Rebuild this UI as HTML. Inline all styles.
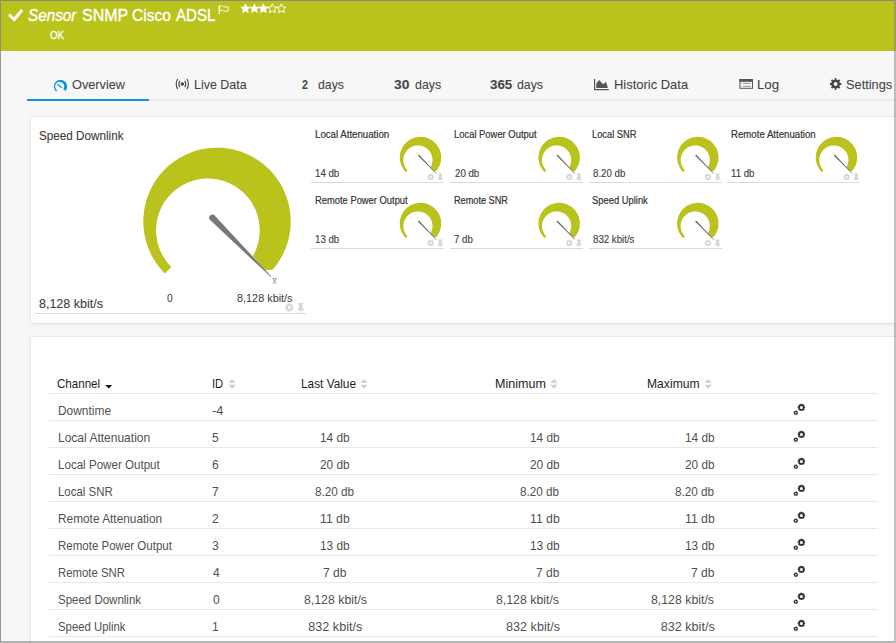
<!DOCTYPE html>
<html><head><meta charset="utf-8"><title>Sensor SNMP Cisco ADSL</title>
<style>
html,body{margin:0;padding:0;}
body{width:896px;height:643px;overflow:hidden;position:relative;background:#f7f7f7;font-family:'Liberation Sans', sans-serif;}
.t{position:absolute;white-space:pre;line-height:1;font-family:'Liberation Sans', sans-serif;transform-origin:0 0;}
.ov{position:absolute;left:0;top:0;}
#hdr{position:absolute;left:0;top:0;width:896px;height:51px;background:#b9c31c;}
#tabline{position:absolute;left:27px;top:99px;width:870px;height:2px;background:#ececec;}
#tabsel{position:absolute;left:27px;top:99px;width:122px;height:2px;background:#0e97d5;}
.card{position:absolute;background:#fff;box-shadow:0 0 1px rgba(0,0,0,0.22),0 1px 5px rgba(0,0,0,0.08);}
#card1{left:31px;top:117px;width:880px;height:206px;}
#card2{left:31px;top:337px;width:880px;height:320px;}
.ul{position:absolute;height:1px;background:#d9d9d9;}
.tl{position:absolute;height:1px;left:49px;width:829px;background:#e8e8e8;}
#frame{position:absolute;left:0;top:0;width:896px;height:643px;box-sizing:border-box;border-top:1px solid rgba(134,134,134,0.92);border-left:1px solid rgba(135,135,135,0.84);border-right:2px solid rgba(128,128,128,0.5);border-bottom:2px solid rgba(110,110,110,0.5);}
</style></head><body>
<div id="hdr"></div>
<div id="tabline"></div><div id="tabsel"></div>
<div class="card" id="card1"></div>
<div class="card" id="card2"></div>
<div class="ul" style="left:35px;top:313px;width:271px"></div><div class="ul" style="left:311px;top:182px;width:133px"></div><div class="ul" style="left:450px;top:182px;width:133px"></div><div class="ul" style="left:589px;top:182px;width:133px"></div><div class="ul" style="left:727px;top:182px;width:133px"></div><div class="ul" style="left:311px;top:248px;width:133px"></div><div class="ul" style="left:450px;top:248px;width:133px"></div><div class="ul" style="left:589px;top:248px;width:133px"></div><div class="tl" style="top:393px"></div><div class="tl" style="top:420px"></div><div class="tl" style="top:447px"></div><div class="tl" style="top:474px"></div><div class="tl" style="top:501px"></div><div class="tl" style="top:528px"></div><div class="tl" style="top:555px"></div><div class="tl" style="top:582px"></div><div class="tl" style="top:609px"></div><div class="tl" style="top:636px"></div><svg class="ov" width="896" height="643" viewBox="0 0 896 643"><path d="M164.89,273.51 L162.27,270.76 L159.80,267.87 L157.48,264.86 L155.31,261.73 L153.32,258.50 L151.49,255.16 L149.84,251.74 L148.36,248.24 L147.07,244.66 L145.96,241.03 L145.04,237.34 L144.32,233.61 L143.79,229.84 L143.45,226.06 L143.30,222.26 L143.36,218.46 L143.61,214.66 L144.05,210.89 L144.69,207.14 L145.52,203.43 L146.55,199.77 L147.75,196.17 L149.15,192.63 L150.72,189.17 L152.47,185.79 L154.39,182.51 L156.48,179.34 L158.73,176.27 L161.13,173.33 L163.69,170.51 L166.38,167.83 L169.21,165.29 L172.17,162.90 L175.24,160.67 L178.43,158.60 L181.72,156.69 L185.10,154.96 L188.57,153.40 L192.12,152.03 L195.73,150.84 L199.39,149.83 L203.11,149.02 L206.86,148.40 L210.63,147.98 L214.43,147.74 L218.23,147.71 L222.03,147.87 L225.81,148.23 L229.57,148.78 L233.30,149.53 L236.98,150.46 L240.62,151.59 L244.18,152.90 L247.68,154.39 L251.09,156.06 L254.42,157.91 L257.64,159.92 L260.76,162.10 L263.76,164.43 L266.63,166.92 L269.38,169.55 L271.98,172.32 L274.44,175.22 L276.74,178.24 L278.89,181.38 L280.87,184.62 L282.68,187.97 L284.32,191.40 L285.77,194.91 L287.05,198.49 L288.14,202.13 L289.04,205.83 L289.74,209.56 L290.26,213.33 L290.58,217.11 L290.70,220.91 L290.63,224.71 L290.36,228.51 L289.89,232.28 L289.23,236.02 L288.38,239.73 L287.34,243.38 L286.12,246.98 L284.71,250.51 L283.12,253.96 L281.35,257.33 L279.41,260.60 L277.31,263.77 L275.04,266.82 L272.62,269.75 L264.60,269.90 L252.86,256.03 L254.12,253.68 L255.25,251.31 L256.24,248.91 L257.10,246.50 L257.83,244.09 L258.44,241.67 L258.92,239.26 L259.28,236.86 L259.53,234.48 L259.67,232.13 L259.70,229.79 L259.62,227.49 L259.45,225.22 L259.18,222.99 L258.82,220.79 L258.37,218.64 L257.83,216.52 L257.22,214.45 L256.52,212.43 L255.75,210.45 L254.90,208.52 L253.98,206.64 L252.99,204.81 L251.94,203.03 L250.82,201.30 L249.64,199.62 L248.40,198.00 L247.09,196.43 L245.73,194.91 L244.31,193.45 L242.83,192.05 L241.29,190.70 L239.70,189.41 L238.06,188.19 L236.36,187.02 L234.61,185.92 L232.81,184.88 L230.96,183.91 L229.05,183.02 L227.10,182.19 L225.10,181.44 L223.05,180.76 L220.95,180.17 L218.81,179.66 L216.63,179.24 L214.41,178.91 L212.15,178.67 L209.85,178.54 L207.52,178.50 L205.17,178.57 L202.79,178.75 L200.38,179.05 L197.97,179.46 L195.54,180.00 L193.11,180.66 L190.68,181.45 L188.26,182.37 L185.86,183.42 L183.48,184.62 L181.14,185.95 L178.83,187.42 L176.59,189.04 L174.40,190.79 L172.29,192.68 L170.26,194.71 L168.32,196.88 L166.49,199.18 L164.77,201.61 L163.18,204.16 L161.73,206.82 L160.42,209.59 L159.27,212.46 L158.28,215.42 L157.47,218.47 L156.84,221.57 L156.40,224.74 L156.15,227.95 L156.11,231.19 L156.27,234.44 L156.63,237.70 L157.21,240.94 L157.99,244.16 L158.98,247.33 L160.17,250.44 L161.57,253.47 L163.17,256.42 L164.95,259.26 L166.92,261.99 L169.06,264.58 L171.37,267.03Z" fill="#b9c31c"/><path d="M210.13,220.06 L270.75,277.05 L271.25,276.55 L214.67,215.54 A3.20,3.20 0 0 0 210.13,220.06Z" fill="#787878"/><path d="M272.6,278.4 H276.6 M273,278.9 L276.2,283.6 M276.2,278.9 L273,283.6" stroke="#8c8ca0" stroke-width="0.9" fill="none"/><path d="M292.64,306.77 L293.74,306.77 L293.74,308.23 L292.64,308.23 L292.18,309.35 L292.96,310.12 L291.92,311.16 L291.15,310.38 L290.03,310.84 L290.03,311.94 L288.57,311.94 L288.57,310.84 L287.45,310.38 L286.68,311.16 L285.64,310.12 L286.42,309.35 L285.96,308.23 L284.86,308.23 L284.86,306.77 L285.96,306.77 L286.42,305.65 L285.64,304.88 L286.68,303.84 L287.45,304.62 L288.57,304.16 L288.57,303.06 L290.03,303.06 L290.03,304.16 L291.15,304.62 L291.92,303.84 L292.96,304.88 L292.18,305.65Z M290.70,307.50 A1.40,1.40 0 1 0 287.90,307.50 A1.40,1.40 0 1 0 290.70,307.50Z" fill="#d6d6d6" fill-rule="evenodd"/><path d="M298.15,303.00 H303.05 V304.50 H302.37 V307.70 L304.00,309.39 V310.14 H301.14 V312.40 H300.06 V310.14 H297.20 V309.39 L298.83,307.70 V304.50 H298.15Z" fill="#d6d6d6"/><path d="M405.86,172.14 L405.13,171.36 L404.43,170.55 L403.78,169.71 L403.17,168.83 L402.61,167.92 L402.10,166.98 L401.64,166.02 L401.22,165.04 L400.86,164.03 L400.55,163.01 L400.29,161.98 L400.09,160.93 L399.94,159.87 L399.84,158.81 L399.80,157.74 L399.82,156.67 L399.89,155.61 L400.01,154.55 L400.19,153.50 L400.42,152.45 L400.71,151.42 L401.05,150.41 L401.44,149.42 L401.88,148.45 L402.38,147.50 L402.92,146.58 L403.50,145.69 L404.13,144.83 L404.81,144.00 L405.53,143.21 L406.28,142.45 L407.08,141.74 L407.91,141.07 L408.77,140.44 L409.67,139.86 L410.59,139.33 L411.54,138.84 L412.52,138.40 L413.51,138.02 L414.52,137.68 L415.55,137.40 L416.60,137.17 L417.65,137.00 L418.71,136.88 L419.78,136.81 L420.85,136.80 L421.91,136.85 L422.97,136.95 L424.03,137.10 L425.08,137.31 L426.11,137.58 L427.13,137.89 L428.14,138.26 L429.12,138.68 L430.08,139.15 L431.01,139.67 L431.92,140.23 L432.79,140.84 L433.63,141.50 L434.44,142.20 L435.21,142.94 L435.94,143.71 L436.63,144.53 L437.28,145.38 L437.88,146.26 L438.44,147.17 L438.95,148.11 L439.41,149.07 L439.82,150.06 L440.17,151.07 L440.48,152.09 L440.73,153.13 L440.93,154.17 L441.08,155.23 L441.16,156.30 L441.20,157.36 L441.18,158.43 L441.10,159.50 L440.97,160.56 L440.79,161.61 L440.55,162.65 L440.26,163.67 L439.91,164.69 L439.52,165.68 L439.07,166.65 L438.57,167.59 L438.03,168.51 L437.44,169.40 L436.80,170.26 L436.12,171.08 L433.87,171.12 L430.57,167.23 L430.93,166.57 L431.24,165.90 L431.52,165.23 L431.76,164.55 L431.97,163.87 L432.14,163.19 L432.27,162.52 L432.38,161.84 L432.45,161.17 L432.48,160.51 L432.49,159.86 L432.47,159.21 L432.42,158.57 L432.35,157.95 L432.25,157.33 L432.12,156.72 L431.97,156.13 L431.80,155.55 L431.60,154.98 L431.38,154.43 L431.14,153.88 L430.89,153.35 L430.61,152.84 L430.31,152.34 L430.00,151.85 L429.67,151.38 L429.32,150.93 L428.95,150.49 L428.57,150.06 L428.17,149.65 L427.75,149.26 L427.32,148.88 L426.88,148.52 L426.42,148.17 L425.94,147.84 L425.45,147.53 L424.94,147.24 L424.42,146.97 L423.89,146.72 L423.34,146.49 L422.77,146.28 L422.20,146.09 L421.61,145.92 L421.01,145.78 L420.40,145.66 L419.77,145.57 L419.14,145.50 L418.49,145.46 L417.84,145.45 L417.18,145.47 L416.51,145.52 L415.83,145.60 L415.15,145.72 L414.47,145.87 L413.79,146.06 L413.11,146.28 L412.43,146.54 L411.75,146.83 L411.08,147.17 L410.43,147.54 L409.78,147.96 L409.15,148.41 L408.54,148.90 L407.94,149.43 L407.37,150.00 L406.83,150.61 L406.31,151.26 L405.83,151.94 L405.38,152.66 L404.98,153.40 L404.61,154.18 L404.28,154.99 L404.01,155.82 L403.78,156.68 L403.60,157.55 L403.48,158.44 L403.41,159.34 L403.40,160.25 L403.44,161.16 L403.54,162.08 L403.71,162.99 L403.93,163.89 L404.20,164.78 L404.54,165.66 L404.93,166.51 L405.38,167.34 L405.88,168.13 L406.43,168.90 L407.04,169.63 L407.68,170.32Z" fill="#b9c31c"/><path d="M418.23,156.06 L436.16,173.64 L436.44,173.36 L419.37,154.94 A0.80,0.80 0 0 0 418.23,156.06Z" fill="#6a6a6a"/><path d="M433.27,176.42 L434.15,176.41 L434.15,177.59 L433.27,177.58 L432.90,178.48 L433.53,179.10 L432.70,179.93 L432.08,179.30 L431.18,179.67 L431.19,180.55 L430.01,180.55 L430.02,179.67 L429.12,179.30 L428.50,179.93 L427.67,179.10 L428.30,178.48 L427.93,177.58 L427.05,177.59 L427.05,176.41 L427.93,176.42 L428.30,175.52 L427.67,174.90 L428.50,174.07 L429.12,174.70 L430.02,174.33 L430.01,173.45 L431.19,173.45 L431.18,174.33 L432.08,174.70 L432.70,174.07 L433.53,174.90 L432.90,175.52Z M431.70,177.00 A1.10,1.10 0 1 0 429.50,177.00 A1.10,1.10 0 1 0 431.70,177.00Z" fill="#d6d6d6" fill-rule="evenodd"/><path d="M438.28,173.60 H442.32 V174.82 H441.76 V177.40 L443.10,178.77 V179.38 H440.75 V181.20 H439.85 V179.38 H437.50 V178.77 L438.84,177.40 V174.82 H438.28Z" fill="#d6d6d6"/><path d="M544.51,172.14 L543.78,171.36 L543.08,170.55 L542.43,169.71 L541.82,168.83 L541.26,167.92 L540.75,166.98 L540.29,166.02 L539.87,165.04 L539.51,164.03 L539.20,163.01 L538.94,161.98 L538.74,160.93 L538.59,159.87 L538.49,158.81 L538.45,157.74 L538.47,156.67 L538.54,155.61 L538.66,154.55 L538.84,153.50 L539.07,152.45 L539.36,151.42 L539.70,150.41 L540.09,149.42 L540.53,148.45 L541.03,147.50 L541.57,146.58 L542.15,145.69 L542.78,144.83 L543.46,144.00 L544.18,143.21 L544.93,142.45 L545.73,141.74 L546.56,141.07 L547.42,140.44 L548.32,139.86 L549.24,139.33 L550.19,138.84 L551.17,138.40 L552.16,138.02 L553.17,137.68 L554.20,137.40 L555.25,137.17 L556.30,137.00 L557.36,136.88 L558.43,136.81 L559.50,136.80 L560.56,136.85 L561.62,136.95 L562.68,137.10 L563.73,137.31 L564.76,137.58 L565.78,137.89 L566.79,138.26 L567.77,138.68 L568.73,139.15 L569.66,139.67 L570.57,140.23 L571.44,140.84 L572.28,141.50 L573.09,142.20 L573.86,142.94 L574.59,143.71 L575.28,144.53 L575.93,145.38 L576.53,146.26 L577.09,147.17 L577.60,148.11 L578.06,149.07 L578.47,150.06 L578.82,151.07 L579.13,152.09 L579.38,153.13 L579.58,154.17 L579.73,155.23 L579.81,156.30 L579.85,157.36 L579.83,158.43 L579.75,159.50 L579.62,160.56 L579.44,161.61 L579.20,162.65 L578.91,163.67 L578.56,164.69 L578.17,165.68 L577.72,166.65 L577.22,167.59 L576.68,168.51 L576.09,169.40 L575.45,170.26 L574.77,171.08 L572.52,171.12 L569.22,167.23 L569.58,166.57 L569.89,165.90 L570.17,165.23 L570.41,164.55 L570.62,163.87 L570.79,163.19 L570.92,162.52 L571.03,161.84 L571.10,161.17 L571.13,160.51 L571.14,159.86 L571.12,159.21 L571.07,158.57 L571.00,157.95 L570.90,157.33 L570.77,156.72 L570.62,156.13 L570.45,155.55 L570.25,154.98 L570.03,154.43 L569.79,153.88 L569.54,153.35 L569.26,152.84 L568.96,152.34 L568.65,151.85 L568.32,151.38 L567.97,150.93 L567.60,150.49 L567.22,150.06 L566.82,149.65 L566.40,149.26 L565.97,148.88 L565.53,148.52 L565.07,148.17 L564.59,147.84 L564.10,147.53 L563.59,147.24 L563.07,146.97 L562.54,146.72 L561.99,146.49 L561.42,146.28 L560.85,146.09 L560.26,145.92 L559.66,145.78 L559.05,145.66 L558.42,145.57 L557.79,145.50 L557.14,145.46 L556.49,145.45 L555.83,145.47 L555.16,145.52 L554.48,145.60 L553.80,145.72 L553.12,145.87 L552.44,146.06 L551.76,146.28 L551.08,146.54 L550.40,146.83 L549.73,147.17 L549.08,147.54 L548.43,147.96 L547.80,148.41 L547.19,148.90 L546.59,149.43 L546.02,150.00 L545.48,150.61 L544.96,151.26 L544.48,151.94 L544.03,152.66 L543.63,153.40 L543.26,154.18 L542.93,154.99 L542.66,155.82 L542.43,156.68 L542.25,157.55 L542.13,158.44 L542.06,159.34 L542.05,160.25 L542.09,161.16 L542.19,162.08 L542.36,162.99 L542.58,163.89 L542.85,164.78 L543.19,165.66 L543.58,166.51 L544.03,167.34 L544.53,168.13 L545.08,168.90 L545.69,169.63 L546.33,170.32Z" fill="#b9c31c"/><path d="M556.88,156.06 L574.81,173.64 L575.09,173.36 L558.02,154.94 A0.80,0.80 0 0 0 556.88,156.06Z" fill="#6a6a6a"/><path d="M571.92,176.42 L572.80,176.41 L572.80,177.59 L571.92,177.58 L571.55,178.48 L572.18,179.10 L571.35,179.93 L570.73,179.30 L569.83,179.67 L569.84,180.55 L568.66,180.55 L568.67,179.67 L567.77,179.30 L567.15,179.93 L566.32,179.10 L566.95,178.48 L566.58,177.58 L565.70,177.59 L565.70,176.41 L566.58,176.42 L566.95,175.52 L566.32,174.90 L567.15,174.07 L567.77,174.70 L568.67,174.33 L568.66,173.45 L569.84,173.45 L569.83,174.33 L570.73,174.70 L571.35,174.07 L572.18,174.90 L571.55,175.52Z M570.35,177.00 A1.10,1.10 0 1 0 568.15,177.00 A1.10,1.10 0 1 0 570.35,177.00Z" fill="#d6d6d6" fill-rule="evenodd"/><path d="M576.93,173.60 H580.97 V174.82 H580.41 V177.40 L581.75,178.77 V179.38 H579.40 V181.20 H578.50 V179.38 H576.15 V178.77 L577.49,177.40 V174.82 H576.93Z" fill="#d6d6d6"/><path d="M683.16,172.14 L682.43,171.36 L681.73,170.55 L681.08,169.71 L680.47,168.83 L679.91,167.92 L679.40,166.98 L678.94,166.02 L678.52,165.04 L678.16,164.03 L677.85,163.01 L677.59,161.98 L677.39,160.93 L677.24,159.87 L677.14,158.81 L677.10,157.74 L677.12,156.67 L677.19,155.61 L677.31,154.55 L677.49,153.50 L677.72,152.45 L678.01,151.42 L678.35,150.41 L678.74,149.42 L679.18,148.45 L679.68,147.50 L680.22,146.58 L680.80,145.69 L681.43,144.83 L682.11,144.00 L682.83,143.21 L683.58,142.45 L684.38,141.74 L685.21,141.07 L686.07,140.44 L686.97,139.86 L687.89,139.33 L688.84,138.84 L689.82,138.40 L690.81,138.02 L691.82,137.68 L692.85,137.40 L693.90,137.17 L694.95,137.00 L696.01,136.88 L697.08,136.81 L698.15,136.80 L699.21,136.85 L700.27,136.95 L701.33,137.10 L702.38,137.31 L703.41,137.58 L704.43,137.89 L705.44,138.26 L706.42,138.68 L707.38,139.15 L708.31,139.67 L709.22,140.23 L710.09,140.84 L710.93,141.50 L711.74,142.20 L712.51,142.94 L713.24,143.71 L713.93,144.53 L714.58,145.38 L715.18,146.26 L715.74,147.17 L716.25,148.11 L716.71,149.07 L717.12,150.06 L717.47,151.07 L717.78,152.09 L718.03,153.13 L718.23,154.17 L718.38,155.23 L718.46,156.30 L718.50,157.36 L718.48,158.43 L718.40,159.50 L718.27,160.56 L718.09,161.61 L717.85,162.65 L717.56,163.67 L717.21,164.69 L716.82,165.68 L716.37,166.65 L715.87,167.59 L715.33,168.51 L714.74,169.40 L714.10,170.26 L713.42,171.08 L711.17,171.12 L707.87,167.23 L708.23,166.57 L708.54,165.90 L708.82,165.23 L709.06,164.55 L709.27,163.87 L709.44,163.19 L709.57,162.52 L709.68,161.84 L709.75,161.17 L709.78,160.51 L709.79,159.86 L709.77,159.21 L709.72,158.57 L709.65,157.95 L709.55,157.33 L709.42,156.72 L709.27,156.13 L709.10,155.55 L708.90,154.98 L708.68,154.43 L708.44,153.88 L708.19,153.35 L707.91,152.84 L707.61,152.34 L707.30,151.85 L706.97,151.38 L706.62,150.93 L706.25,150.49 L705.87,150.06 L705.47,149.65 L705.05,149.26 L704.62,148.88 L704.18,148.52 L703.72,148.17 L703.24,147.84 L702.75,147.53 L702.24,147.24 L701.72,146.97 L701.19,146.72 L700.64,146.49 L700.07,146.28 L699.50,146.09 L698.91,145.92 L698.31,145.78 L697.70,145.66 L697.07,145.57 L696.44,145.50 L695.79,145.46 L695.14,145.45 L694.48,145.47 L693.81,145.52 L693.13,145.60 L692.45,145.72 L691.77,145.87 L691.09,146.06 L690.41,146.28 L689.73,146.54 L689.05,146.83 L688.38,147.17 L687.73,147.54 L687.08,147.96 L686.45,148.41 L685.84,148.90 L685.24,149.43 L684.67,150.00 L684.13,150.61 L683.61,151.26 L683.13,151.94 L682.68,152.66 L682.28,153.40 L681.91,154.18 L681.58,154.99 L681.31,155.82 L681.08,156.68 L680.90,157.55 L680.78,158.44 L680.71,159.34 L680.70,160.25 L680.74,161.16 L680.84,162.08 L681.01,162.99 L681.23,163.89 L681.50,164.78 L681.84,165.66 L682.23,166.51 L682.68,167.34 L683.18,168.13 L683.73,168.90 L684.34,169.63 L684.98,170.32Z" fill="#b9c31c"/><path d="M695.53,156.06 L713.46,173.64 L713.74,173.36 L696.67,154.94 A0.80,0.80 0 0 0 695.53,156.06Z" fill="#6a6a6a"/><path d="M710.57,176.42 L711.45,176.41 L711.45,177.59 L710.57,177.58 L710.20,178.48 L710.83,179.10 L710.00,179.93 L709.38,179.30 L708.48,179.67 L708.49,180.55 L707.31,180.55 L707.32,179.67 L706.42,179.30 L705.80,179.93 L704.97,179.10 L705.60,178.48 L705.23,177.58 L704.35,177.59 L704.35,176.41 L705.23,176.42 L705.60,175.52 L704.97,174.90 L705.80,174.07 L706.42,174.70 L707.32,174.33 L707.31,173.45 L708.49,173.45 L708.48,174.33 L709.38,174.70 L710.00,174.07 L710.83,174.90 L710.20,175.52Z M709.00,177.00 A1.10,1.10 0 1 0 706.80,177.00 A1.10,1.10 0 1 0 709.00,177.00Z" fill="#d6d6d6" fill-rule="evenodd"/><path d="M715.58,173.60 H719.62 V174.82 H719.06 V177.40 L720.40,178.77 V179.38 H718.05 V181.20 H717.15 V179.38 H714.80 V178.77 L716.14,177.40 V174.82 H715.58Z" fill="#d6d6d6"/><path d="M821.81,172.14 L821.08,171.36 L820.38,170.55 L819.73,169.71 L819.12,168.83 L818.56,167.92 L818.05,166.98 L817.59,166.02 L817.17,165.04 L816.81,164.03 L816.50,163.01 L816.24,161.98 L816.04,160.93 L815.89,159.87 L815.79,158.81 L815.75,157.74 L815.77,156.67 L815.84,155.61 L815.96,154.55 L816.14,153.50 L816.37,152.45 L816.66,151.42 L817.00,150.41 L817.39,149.42 L817.83,148.45 L818.33,147.50 L818.87,146.58 L819.45,145.69 L820.08,144.83 L820.76,144.00 L821.48,143.21 L822.23,142.45 L823.03,141.74 L823.86,141.07 L824.72,140.44 L825.62,139.86 L826.54,139.33 L827.49,138.84 L828.47,138.40 L829.46,138.02 L830.47,137.68 L831.50,137.40 L832.55,137.17 L833.60,137.00 L834.66,136.88 L835.73,136.81 L836.80,136.80 L837.86,136.85 L838.92,136.95 L839.98,137.10 L841.03,137.31 L842.06,137.58 L843.08,137.89 L844.09,138.26 L845.07,138.68 L846.03,139.15 L846.96,139.67 L847.87,140.23 L848.74,140.84 L849.58,141.50 L850.39,142.20 L851.16,142.94 L851.89,143.71 L852.58,144.53 L853.23,145.38 L853.83,146.26 L854.39,147.17 L854.90,148.11 L855.36,149.07 L855.77,150.06 L856.12,151.07 L856.43,152.09 L856.68,153.13 L856.88,154.17 L857.03,155.23 L857.11,156.30 L857.15,157.36 L857.13,158.43 L857.05,159.50 L856.92,160.56 L856.74,161.61 L856.50,162.65 L856.21,163.67 L855.86,164.69 L855.47,165.68 L855.02,166.65 L854.52,167.59 L853.98,168.51 L853.39,169.40 L852.75,170.26 L852.07,171.08 L849.82,171.12 L846.52,167.23 L846.88,166.57 L847.19,165.90 L847.47,165.23 L847.71,164.55 L847.92,163.87 L848.09,163.19 L848.22,162.52 L848.33,161.84 L848.40,161.17 L848.43,160.51 L848.44,159.86 L848.42,159.21 L848.37,158.57 L848.30,157.95 L848.20,157.33 L848.07,156.72 L847.92,156.13 L847.75,155.55 L847.55,154.98 L847.33,154.43 L847.09,153.88 L846.84,153.35 L846.56,152.84 L846.26,152.34 L845.95,151.85 L845.62,151.38 L845.27,150.93 L844.90,150.49 L844.52,150.06 L844.12,149.65 L843.70,149.26 L843.27,148.88 L842.83,148.52 L842.37,148.17 L841.89,147.84 L841.40,147.53 L840.89,147.24 L840.37,146.97 L839.84,146.72 L839.29,146.49 L838.72,146.28 L838.15,146.09 L837.56,145.92 L836.96,145.78 L836.35,145.66 L835.72,145.57 L835.09,145.50 L834.44,145.46 L833.79,145.45 L833.13,145.47 L832.46,145.52 L831.78,145.60 L831.10,145.72 L830.42,145.87 L829.74,146.06 L829.06,146.28 L828.38,146.54 L827.70,146.83 L827.03,147.17 L826.38,147.54 L825.73,147.96 L825.10,148.41 L824.49,148.90 L823.89,149.43 L823.32,150.00 L822.78,150.61 L822.26,151.26 L821.78,151.94 L821.33,152.66 L820.93,153.40 L820.56,154.18 L820.23,154.99 L819.96,155.82 L819.73,156.68 L819.55,157.55 L819.43,158.44 L819.36,159.34 L819.35,160.25 L819.39,161.16 L819.49,162.08 L819.66,162.99 L819.88,163.89 L820.15,164.78 L820.49,165.66 L820.88,166.51 L821.33,167.34 L821.83,168.13 L822.38,168.90 L822.99,169.63 L823.63,170.32Z" fill="#b9c31c"/><path d="M834.18,156.06 L852.11,173.64 L852.39,173.36 L835.32,154.94 A0.80,0.80 0 0 0 834.18,156.06Z" fill="#6a6a6a"/><path d="M849.22,176.42 L850.10,176.41 L850.10,177.59 L849.22,177.58 L848.85,178.48 L849.48,179.10 L848.65,179.93 L848.03,179.30 L847.13,179.67 L847.14,180.55 L845.96,180.55 L845.97,179.67 L845.07,179.30 L844.45,179.93 L843.62,179.10 L844.25,178.48 L843.88,177.58 L843.00,177.59 L843.00,176.41 L843.88,176.42 L844.25,175.52 L843.62,174.90 L844.45,174.07 L845.07,174.70 L845.97,174.33 L845.96,173.45 L847.14,173.45 L847.13,174.33 L848.03,174.70 L848.65,174.07 L849.48,174.90 L848.85,175.52Z M847.65,177.00 A1.10,1.10 0 1 0 845.45,177.00 A1.10,1.10 0 1 0 847.65,177.00Z" fill="#d6d6d6" fill-rule="evenodd"/><path d="M854.23,173.60 H858.27 V174.82 H857.71 V177.40 L859.05,178.77 V179.38 H856.70 V181.20 H855.80 V179.38 H853.45 V178.77 L854.79,177.40 V174.82 H854.23Z" fill="#d6d6d6"/><path d="M405.86,238.14 L405.13,237.36 L404.43,236.55 L403.78,235.71 L403.17,234.83 L402.61,233.92 L402.10,232.98 L401.64,232.02 L401.22,231.04 L400.86,230.03 L400.55,229.01 L400.29,227.98 L400.09,226.93 L399.94,225.87 L399.84,224.81 L399.80,223.74 L399.82,222.67 L399.89,221.61 L400.01,220.55 L400.19,219.50 L400.42,218.45 L400.71,217.42 L401.05,216.41 L401.44,215.42 L401.88,214.45 L402.38,213.50 L402.92,212.58 L403.50,211.69 L404.13,210.83 L404.81,210.00 L405.53,209.21 L406.28,208.45 L407.08,207.74 L407.91,207.07 L408.77,206.44 L409.67,205.86 L410.59,205.33 L411.54,204.84 L412.52,204.40 L413.51,204.02 L414.52,203.68 L415.55,203.40 L416.60,203.17 L417.65,203.00 L418.71,202.88 L419.78,202.81 L420.85,202.80 L421.91,202.85 L422.97,202.95 L424.03,203.10 L425.08,203.31 L426.11,203.58 L427.13,203.89 L428.14,204.26 L429.12,204.68 L430.08,205.15 L431.01,205.67 L431.92,206.23 L432.79,206.84 L433.63,207.50 L434.44,208.20 L435.21,208.94 L435.94,209.71 L436.63,210.53 L437.28,211.38 L437.88,212.26 L438.44,213.17 L438.95,214.11 L439.41,215.07 L439.82,216.06 L440.17,217.07 L440.48,218.09 L440.73,219.13 L440.93,220.17 L441.08,221.23 L441.16,222.30 L441.20,223.36 L441.18,224.43 L441.10,225.50 L440.97,226.56 L440.79,227.61 L440.55,228.65 L440.26,229.67 L439.91,230.69 L439.52,231.68 L439.07,232.65 L438.57,233.59 L438.03,234.51 L437.44,235.40 L436.80,236.26 L436.12,237.08 L433.87,237.12 L430.57,233.23 L430.93,232.57 L431.24,231.90 L431.52,231.23 L431.76,230.55 L431.97,229.87 L432.14,229.19 L432.27,228.52 L432.38,227.84 L432.45,227.17 L432.48,226.51 L432.49,225.86 L432.47,225.21 L432.42,224.57 L432.35,223.95 L432.25,223.33 L432.12,222.72 L431.97,222.13 L431.80,221.55 L431.60,220.98 L431.38,220.43 L431.14,219.88 L430.89,219.35 L430.61,218.84 L430.31,218.34 L430.00,217.85 L429.67,217.38 L429.32,216.93 L428.95,216.49 L428.57,216.06 L428.17,215.65 L427.75,215.26 L427.32,214.88 L426.88,214.52 L426.42,214.17 L425.94,213.84 L425.45,213.53 L424.94,213.24 L424.42,212.97 L423.89,212.72 L423.34,212.49 L422.77,212.28 L422.20,212.09 L421.61,211.92 L421.01,211.78 L420.40,211.66 L419.77,211.57 L419.14,211.50 L418.49,211.46 L417.84,211.45 L417.18,211.47 L416.51,211.52 L415.83,211.60 L415.15,211.72 L414.47,211.87 L413.79,212.06 L413.11,212.28 L412.43,212.54 L411.75,212.83 L411.08,213.17 L410.43,213.54 L409.78,213.96 L409.15,214.41 L408.54,214.90 L407.94,215.43 L407.37,216.00 L406.83,216.61 L406.31,217.26 L405.83,217.94 L405.38,218.66 L404.98,219.40 L404.61,220.18 L404.28,220.99 L404.01,221.82 L403.78,222.68 L403.60,223.55 L403.48,224.44 L403.41,225.34 L403.40,226.25 L403.44,227.16 L403.54,228.08 L403.71,228.99 L403.93,229.89 L404.20,230.78 L404.54,231.66 L404.93,232.51 L405.38,233.34 L405.88,234.13 L406.43,234.90 L407.04,235.63 L407.68,236.32Z" fill="#b9c31c"/><path d="M418.23,222.06 L436.16,239.64 L436.44,239.36 L419.37,220.94 A0.80,0.80 0 0 0 418.23,222.06Z" fill="#6a6a6a"/><path d="M433.27,242.42 L434.15,242.41 L434.15,243.59 L433.27,243.58 L432.90,244.48 L433.53,245.10 L432.70,245.93 L432.08,245.30 L431.18,245.67 L431.19,246.55 L430.01,246.55 L430.02,245.67 L429.12,245.30 L428.50,245.93 L427.67,245.10 L428.30,244.48 L427.93,243.58 L427.05,243.59 L427.05,242.41 L427.93,242.42 L428.30,241.52 L427.67,240.90 L428.50,240.07 L429.12,240.70 L430.02,240.33 L430.01,239.45 L431.19,239.45 L431.18,240.33 L432.08,240.70 L432.70,240.07 L433.53,240.90 L432.90,241.52Z M431.70,243.00 A1.10,1.10 0 1 0 429.50,243.00 A1.10,1.10 0 1 0 431.70,243.00Z" fill="#d6d6d6" fill-rule="evenodd"/><path d="M438.28,239.60 H442.32 V240.82 H441.76 V243.40 L443.10,244.77 V245.38 H440.75 V247.20 H439.85 V245.38 H437.50 V244.77 L438.84,243.40 V240.82 H438.28Z" fill="#d6d6d6"/><path d="M544.51,238.14 L543.78,237.36 L543.08,236.55 L542.43,235.71 L541.82,234.83 L541.26,233.92 L540.75,232.98 L540.29,232.02 L539.87,231.04 L539.51,230.03 L539.20,229.01 L538.94,227.98 L538.74,226.93 L538.59,225.87 L538.49,224.81 L538.45,223.74 L538.47,222.67 L538.54,221.61 L538.66,220.55 L538.84,219.50 L539.07,218.45 L539.36,217.42 L539.70,216.41 L540.09,215.42 L540.53,214.45 L541.03,213.50 L541.57,212.58 L542.15,211.69 L542.78,210.83 L543.46,210.00 L544.18,209.21 L544.93,208.45 L545.73,207.74 L546.56,207.07 L547.42,206.44 L548.32,205.86 L549.24,205.33 L550.19,204.84 L551.17,204.40 L552.16,204.02 L553.17,203.68 L554.20,203.40 L555.25,203.17 L556.30,203.00 L557.36,202.88 L558.43,202.81 L559.50,202.80 L560.56,202.85 L561.62,202.95 L562.68,203.10 L563.73,203.31 L564.76,203.58 L565.78,203.89 L566.79,204.26 L567.77,204.68 L568.73,205.15 L569.66,205.67 L570.57,206.23 L571.44,206.84 L572.28,207.50 L573.09,208.20 L573.86,208.94 L574.59,209.71 L575.28,210.53 L575.93,211.38 L576.53,212.26 L577.09,213.17 L577.60,214.11 L578.06,215.07 L578.47,216.06 L578.82,217.07 L579.13,218.09 L579.38,219.13 L579.58,220.17 L579.73,221.23 L579.81,222.30 L579.85,223.36 L579.83,224.43 L579.75,225.50 L579.62,226.56 L579.44,227.61 L579.20,228.65 L578.91,229.67 L578.56,230.69 L578.17,231.68 L577.72,232.65 L577.22,233.59 L576.68,234.51 L576.09,235.40 L575.45,236.26 L574.77,237.08 L572.52,237.12 L569.22,233.23 L569.58,232.57 L569.89,231.90 L570.17,231.23 L570.41,230.55 L570.62,229.87 L570.79,229.19 L570.92,228.52 L571.03,227.84 L571.10,227.17 L571.13,226.51 L571.14,225.86 L571.12,225.21 L571.07,224.57 L571.00,223.95 L570.90,223.33 L570.77,222.72 L570.62,222.13 L570.45,221.55 L570.25,220.98 L570.03,220.43 L569.79,219.88 L569.54,219.35 L569.26,218.84 L568.96,218.34 L568.65,217.85 L568.32,217.38 L567.97,216.93 L567.60,216.49 L567.22,216.06 L566.82,215.65 L566.40,215.26 L565.97,214.88 L565.53,214.52 L565.07,214.17 L564.59,213.84 L564.10,213.53 L563.59,213.24 L563.07,212.97 L562.54,212.72 L561.99,212.49 L561.42,212.28 L560.85,212.09 L560.26,211.92 L559.66,211.78 L559.05,211.66 L558.42,211.57 L557.79,211.50 L557.14,211.46 L556.49,211.45 L555.83,211.47 L555.16,211.52 L554.48,211.60 L553.80,211.72 L553.12,211.87 L552.44,212.06 L551.76,212.28 L551.08,212.54 L550.40,212.83 L549.73,213.17 L549.08,213.54 L548.43,213.96 L547.80,214.41 L547.19,214.90 L546.59,215.43 L546.02,216.00 L545.48,216.61 L544.96,217.26 L544.48,217.94 L544.03,218.66 L543.63,219.40 L543.26,220.18 L542.93,220.99 L542.66,221.82 L542.43,222.68 L542.25,223.55 L542.13,224.44 L542.06,225.34 L542.05,226.25 L542.09,227.16 L542.19,228.08 L542.36,228.99 L542.58,229.89 L542.85,230.78 L543.19,231.66 L543.58,232.51 L544.03,233.34 L544.53,234.13 L545.08,234.90 L545.69,235.63 L546.33,236.32Z" fill="#b9c31c"/><path d="M556.88,222.06 L574.81,239.64 L575.09,239.36 L558.02,220.94 A0.80,0.80 0 0 0 556.88,222.06Z" fill="#6a6a6a"/><path d="M571.92,242.42 L572.80,242.41 L572.80,243.59 L571.92,243.58 L571.55,244.48 L572.18,245.10 L571.35,245.93 L570.73,245.30 L569.83,245.67 L569.84,246.55 L568.66,246.55 L568.67,245.67 L567.77,245.30 L567.15,245.93 L566.32,245.10 L566.95,244.48 L566.58,243.58 L565.70,243.59 L565.70,242.41 L566.58,242.42 L566.95,241.52 L566.32,240.90 L567.15,240.07 L567.77,240.70 L568.67,240.33 L568.66,239.45 L569.84,239.45 L569.83,240.33 L570.73,240.70 L571.35,240.07 L572.18,240.90 L571.55,241.52Z M570.35,243.00 A1.10,1.10 0 1 0 568.15,243.00 A1.10,1.10 0 1 0 570.35,243.00Z" fill="#d6d6d6" fill-rule="evenodd"/><path d="M576.93,239.60 H580.97 V240.82 H580.41 V243.40 L581.75,244.77 V245.38 H579.40 V247.20 H578.50 V245.38 H576.15 V244.77 L577.49,243.40 V240.82 H576.93Z" fill="#d6d6d6"/><path d="M683.16,238.14 L682.43,237.36 L681.73,236.55 L681.08,235.71 L680.47,234.83 L679.91,233.92 L679.40,232.98 L678.94,232.02 L678.52,231.04 L678.16,230.03 L677.85,229.01 L677.59,227.98 L677.39,226.93 L677.24,225.87 L677.14,224.81 L677.10,223.74 L677.12,222.67 L677.19,221.61 L677.31,220.55 L677.49,219.50 L677.72,218.45 L678.01,217.42 L678.35,216.41 L678.74,215.42 L679.18,214.45 L679.68,213.50 L680.22,212.58 L680.80,211.69 L681.43,210.83 L682.11,210.00 L682.83,209.21 L683.58,208.45 L684.38,207.74 L685.21,207.07 L686.07,206.44 L686.97,205.86 L687.89,205.33 L688.84,204.84 L689.82,204.40 L690.81,204.02 L691.82,203.68 L692.85,203.40 L693.90,203.17 L694.95,203.00 L696.01,202.88 L697.08,202.81 L698.15,202.80 L699.21,202.85 L700.27,202.95 L701.33,203.10 L702.38,203.31 L703.41,203.58 L704.43,203.89 L705.44,204.26 L706.42,204.68 L707.38,205.15 L708.31,205.67 L709.22,206.23 L710.09,206.84 L710.93,207.50 L711.74,208.20 L712.51,208.94 L713.24,209.71 L713.93,210.53 L714.58,211.38 L715.18,212.26 L715.74,213.17 L716.25,214.11 L716.71,215.07 L717.12,216.06 L717.47,217.07 L717.78,218.09 L718.03,219.13 L718.23,220.17 L718.38,221.23 L718.46,222.30 L718.50,223.36 L718.48,224.43 L718.40,225.50 L718.27,226.56 L718.09,227.61 L717.85,228.65 L717.56,229.67 L717.21,230.69 L716.82,231.68 L716.37,232.65 L715.87,233.59 L715.33,234.51 L714.74,235.40 L714.10,236.26 L713.42,237.08 L711.17,237.12 L707.87,233.23 L708.23,232.57 L708.54,231.90 L708.82,231.23 L709.06,230.55 L709.27,229.87 L709.44,229.19 L709.57,228.52 L709.68,227.84 L709.75,227.17 L709.78,226.51 L709.79,225.86 L709.77,225.21 L709.72,224.57 L709.65,223.95 L709.55,223.33 L709.42,222.72 L709.27,222.13 L709.10,221.55 L708.90,220.98 L708.68,220.43 L708.44,219.88 L708.19,219.35 L707.91,218.84 L707.61,218.34 L707.30,217.85 L706.97,217.38 L706.62,216.93 L706.25,216.49 L705.87,216.06 L705.47,215.65 L705.05,215.26 L704.62,214.88 L704.18,214.52 L703.72,214.17 L703.24,213.84 L702.75,213.53 L702.24,213.24 L701.72,212.97 L701.19,212.72 L700.64,212.49 L700.07,212.28 L699.50,212.09 L698.91,211.92 L698.31,211.78 L697.70,211.66 L697.07,211.57 L696.44,211.50 L695.79,211.46 L695.14,211.45 L694.48,211.47 L693.81,211.52 L693.13,211.60 L692.45,211.72 L691.77,211.87 L691.09,212.06 L690.41,212.28 L689.73,212.54 L689.05,212.83 L688.38,213.17 L687.73,213.54 L687.08,213.96 L686.45,214.41 L685.84,214.90 L685.24,215.43 L684.67,216.00 L684.13,216.61 L683.61,217.26 L683.13,217.94 L682.68,218.66 L682.28,219.40 L681.91,220.18 L681.58,220.99 L681.31,221.82 L681.08,222.68 L680.90,223.55 L680.78,224.44 L680.71,225.34 L680.70,226.25 L680.74,227.16 L680.84,228.08 L681.01,228.99 L681.23,229.89 L681.50,230.78 L681.84,231.66 L682.23,232.51 L682.68,233.34 L683.18,234.13 L683.73,234.90 L684.34,235.63 L684.98,236.32Z" fill="#b9c31c"/><path d="M695.53,222.06 L713.46,239.64 L713.74,239.36 L696.67,220.94 A0.80,0.80 0 0 0 695.53,222.06Z" fill="#6a6a6a"/><path d="M710.57,242.42 L711.45,242.41 L711.45,243.59 L710.57,243.58 L710.20,244.48 L710.83,245.10 L710.00,245.93 L709.38,245.30 L708.48,245.67 L708.49,246.55 L707.31,246.55 L707.32,245.67 L706.42,245.30 L705.80,245.93 L704.97,245.10 L705.60,244.48 L705.23,243.58 L704.35,243.59 L704.35,242.41 L705.23,242.42 L705.60,241.52 L704.97,240.90 L705.80,240.07 L706.42,240.70 L707.32,240.33 L707.31,239.45 L708.49,239.45 L708.48,240.33 L709.38,240.70 L710.00,240.07 L710.83,240.90 L710.20,241.52Z M709.00,243.00 A1.10,1.10 0 1 0 706.80,243.00 A1.10,1.10 0 1 0 709.00,243.00Z" fill="#d6d6d6" fill-rule="evenodd"/><path d="M715.58,239.60 H719.62 V240.82 H719.06 V243.40 L720.40,244.77 V245.38 H718.05 V247.20 H717.15 V245.38 H714.80 V244.77 L716.14,243.40 V240.82 H715.58Z" fill="#d6d6d6"/><path d="M56.08,91.40 L55.71,91.04 L55.37,90.65 L55.06,90.24 L54.78,89.80 L54.54,89.34 L54.34,88.87 L54.17,88.37 L54.04,87.87 L53.96,87.36 L53.91,86.85 L53.90,86.33 L53.94,85.81 L54.01,85.30 L54.12,84.79 L54.28,84.30 L54.47,83.82 L54.70,83.35 L54.96,82.91 L55.26,82.48 L55.60,82.08 L55.96,81.71 L56.35,81.37 L56.76,81.06 L57.20,80.78 L57.66,80.54 L58.13,80.34 L58.63,80.17 L59.13,80.04 L59.64,79.96 L60.15,79.91 L60.67,79.90 L61.19,79.94 L61.70,80.01 L62.21,80.12 L62.70,80.28 L63.18,80.47 L63.65,80.70 L64.09,80.96 L64.52,81.26 L64.92,81.60 L65.29,81.96 L65.63,82.35 L65.94,82.76 L66.22,83.20 L66.46,83.66 L66.66,84.13 L66.83,84.63 L66.96,85.13 L67.04,85.64 L67.09,86.15 L67.10,86.67 L67.06,87.19 L66.99,87.70 L66.88,88.21 L66.72,88.70 L66.53,89.18 L66.30,89.65 L66.04,90.09 L65.74,90.52 L65.40,90.92 L63.30,89.03 L63.47,88.78 L63.62,88.52 L63.75,88.26 L63.86,88.00 L63.95,87.72 L64.03,87.45 L64.08,87.16 L64.12,86.88 L64.15,86.60 L64.15,86.31 L64.13,86.02 L64.10,85.73 L64.05,85.45 L63.98,85.17 L63.89,84.88 L63.78,84.61 L63.65,84.34 L63.50,84.07 L63.33,83.81 L63.14,83.56 L62.94,83.33 L62.71,83.10 L62.46,82.89 L62.20,82.69 L61.91,82.51 L61.61,82.35 L61.29,82.21 L60.96,82.10 L60.62,82.01 L60.26,81.94 L59.90,81.91 L59.52,81.90 L59.15,81.93 L58.77,81.99 L58.39,82.08 L58.02,82.21 L57.66,82.36 L57.31,82.56 L56.97,82.78 L56.66,83.04 L56.36,83.33 L56.10,83.64 L55.86,83.98 L55.65,84.34 L55.48,84.72 L55.34,85.12 L55.24,85.52 L55.17,85.94 L55.15,86.36 L55.17,86.78 L55.22,87.20 L55.31,87.60 L55.44,88.00 L55.61,88.38 L55.81,88.74 L56.03,89.08 L56.29,89.39 L56.57,89.68 L56.87,89.94 L57.19,90.17Z" fill="#0e97d5"/><path d="M57.3,84.3 L61.9,87.7" stroke="#0e97d5" stroke-width="1.1"/><circle cx="182.3" cy="84" r="1.8" fill="#444"/><path d="M179.8,80.8 Q177.9,84 179.8,87.2 M184.8,80.8 Q186.7,84 184.8,87.2" stroke="#444" stroke-width="1.1" fill="none"/><path d="M177.6,79 Q174.8,84 177.6,89 M187,79 Q189.8,84 187,89" stroke="#444" stroke-width="1.1" fill="none"/><path d="M594.6,79 V89.6 H608.8" stroke="#555" stroke-width="1.2" fill="none"/><path d="M596.3,88 V83.6 L599.1,80 L603.1,84.3 L606,81.8 L607.9,88Z" fill="#555"/><rect x="739.9" y="79.5" width="12.6" height="8.8" fill="none" stroke="#555" stroke-width="1"/><rect x="739.4" y="79" width="13.6" height="2.8" fill="#555"/><path d="M743,83.4 H750.5 M743,86.3 H750.5" stroke="#8a8a8a" stroke-width="0.9"/><path d="M741.1,83.4 H742.1 M741.1,86.3 H742.1" stroke="#aaa" stroke-width="0.9"/><path d="M839.91,83.06 L841.32,83.06 L841.32,84.94 L839.91,84.94 L839.31,86.38 L840.31,87.38 L838.98,88.71 L837.98,87.71 L836.54,88.31 L836.54,89.72 L834.66,89.72 L834.66,88.31 L833.22,87.71 L832.22,88.71 L830.89,87.38 L831.89,86.38 L831.29,84.94 L829.88,84.94 L829.88,83.06 L831.29,83.06 L831.89,81.62 L830.89,80.62 L832.22,79.29 L833.22,80.29 L834.66,79.69 L834.66,78.28 L836.54,78.28 L836.54,79.69 L837.98,80.29 L838.98,79.29 L840.31,80.62 L839.31,81.62Z M837.50,84.00 A1.90,1.90 0 1 0 833.70,84.00 A1.90,1.90 0 1 0 837.50,84.00Z" fill="#444" fill-rule="evenodd"/><path d="M9.1,14.6 L14.2,19.5 L22.1,10.0" stroke="#fff" stroke-width="3.0" fill="none"/><path d="M219.2,5.4 V13.9" stroke="#fff" stroke-width="1.2"/><path d="M219.4,6.0 H222.6 L223.6,6.9 H228.2 V11.2 H223.8 L222.8,10.3 H219.4Z" fill="none" stroke="#fff" stroke-width="0.9"/><path d="M245.40,3.80 L246.78,6.80 L250.06,7.19 L247.64,9.43 L248.28,12.66 L245.40,11.05 L242.52,12.66 L243.16,9.43 L240.74,7.19 L244.02,6.80Z" fill="#fff" stroke="#fff" stroke-width="0.5"/><path d="M254.40,3.80 L255.78,6.80 L259.06,7.19 L256.64,9.43 L257.28,12.66 L254.40,11.05 L251.52,12.66 L252.16,9.43 L249.74,7.19 L253.02,6.80Z" fill="#fff" stroke="#fff" stroke-width="0.5"/><path d="M263.40,3.80 L264.78,6.80 L268.06,7.19 L265.64,9.43 L266.28,12.66 L263.40,11.05 L260.52,12.66 L261.16,9.43 L258.74,7.19 L262.02,6.80Z" fill="#fff" stroke="#fff" stroke-width="0.5"/><path d="M272.40,3.80 L273.78,6.80 L277.06,7.19 L274.64,9.43 L275.28,12.66 L272.40,11.05 L269.52,12.66 L270.16,9.43 L267.74,7.19 L271.02,6.80Z" fill="none" stroke="#fff" stroke-width="1"/><path d="M281.40,3.80 L282.78,6.80 L286.06,7.19 L283.64,9.43 L284.28,12.66 L281.40,11.05 L278.52,12.66 L279.16,9.43 L276.74,7.19 L280.02,6.80Z" fill="none" stroke="#fff" stroke-width="1"/><path d="M105.2,385.1 H112.2 L108.7,388.6Z" fill="#111"/><path d="M228.4,382.8 H235.8 L232.1,379Z M228.4,384.8 H235.8 L232.1,388.7Z" fill="#cfcfcf"/><path d="M360.4,382.8 H367.79999999999995 L364.09999999999997,379Z M360.4,384.8 H367.79999999999995 L364.09999999999997,388.7Z" fill="#cfcfcf"/><path d="M550.2,382.8 H557.6 L553.9000000000001,379Z M550.2,384.8 H557.6 L553.9000000000001,388.7Z" fill="#cfcfcf"/><path d="M704.5,382.8 H711.9 L708.2,379Z M704.5,384.8 H711.9 L708.2,388.7Z" fill="#cfcfcf"/><path d="M804.44,406.43 L805.10,406.51 L805.10,408.29 L804.44,408.37 L804.24,408.86 L804.64,409.39 L803.39,410.64 L802.86,410.24 L802.37,410.44 L802.29,411.10 L800.51,411.10 L800.43,410.44 L799.94,410.24 L799.41,410.64 L798.16,409.39 L798.56,408.86 L798.36,408.37 L797.70,408.29 L797.70,406.51 L798.36,406.43 L798.56,405.94 L798.16,405.41 L799.41,404.16 L799.94,404.56 L800.43,404.36 L800.51,403.70 L802.29,403.70 L802.37,404.36 L802.86,404.56 L803.39,404.16 L804.64,405.41 L804.24,405.94Z M802.90,407.40 A1.50,1.50 0 1 0 799.90,407.40 A1.50,1.50 0 1 0 802.90,407.40Z" fill="#333" fill-rule="evenodd"/><path d="M797.57,411.93 L797.99,411.99 L797.99,413.41 L797.57,413.47 L797.36,413.85 L797.51,414.24 L796.28,414.95 L796.01,414.62 L795.59,414.62 L795.32,414.95 L794.09,414.24 L794.24,413.85 L794.03,413.47 L793.61,413.41 L793.61,411.99 L794.03,411.93 L794.24,411.55 L794.09,411.16 L795.32,410.45 L795.59,410.78 L796.01,410.78 L796.28,410.45 L797.51,411.16 L797.36,411.55Z M796.60,412.70 A0.80,0.80 0 1 0 795.00,412.70 A0.80,0.80 0 1 0 796.60,412.70Z" fill="#333" fill-rule="evenodd"/><path d="M804.44,433.43 L805.10,433.51 L805.10,435.29 L804.44,435.37 L804.24,435.86 L804.64,436.39 L803.39,437.64 L802.86,437.24 L802.37,437.44 L802.29,438.10 L800.51,438.10 L800.43,437.44 L799.94,437.24 L799.41,437.64 L798.16,436.39 L798.56,435.86 L798.36,435.37 L797.70,435.29 L797.70,433.51 L798.36,433.43 L798.56,432.94 L798.16,432.41 L799.41,431.16 L799.94,431.56 L800.43,431.36 L800.51,430.70 L802.29,430.70 L802.37,431.36 L802.86,431.56 L803.39,431.16 L804.64,432.41 L804.24,432.94Z M802.90,434.40 A1.50,1.50 0 1 0 799.90,434.40 A1.50,1.50 0 1 0 802.90,434.40Z" fill="#333" fill-rule="evenodd"/><path d="M797.57,438.93 L797.99,438.99 L797.99,440.41 L797.57,440.47 L797.36,440.85 L797.51,441.24 L796.28,441.95 L796.01,441.62 L795.59,441.62 L795.32,441.95 L794.09,441.24 L794.24,440.85 L794.03,440.47 L793.61,440.41 L793.61,438.99 L794.03,438.93 L794.24,438.55 L794.09,438.16 L795.32,437.45 L795.59,437.78 L796.01,437.78 L796.28,437.45 L797.51,438.16 L797.36,438.55Z M796.60,439.70 A0.80,0.80 0 1 0 795.00,439.70 A0.80,0.80 0 1 0 796.60,439.70Z" fill="#333" fill-rule="evenodd"/><path d="M804.44,460.43 L805.10,460.51 L805.10,462.29 L804.44,462.37 L804.24,462.86 L804.64,463.39 L803.39,464.64 L802.86,464.24 L802.37,464.44 L802.29,465.10 L800.51,465.10 L800.43,464.44 L799.94,464.24 L799.41,464.64 L798.16,463.39 L798.56,462.86 L798.36,462.37 L797.70,462.29 L797.70,460.51 L798.36,460.43 L798.56,459.94 L798.16,459.41 L799.41,458.16 L799.94,458.56 L800.43,458.36 L800.51,457.70 L802.29,457.70 L802.37,458.36 L802.86,458.56 L803.39,458.16 L804.64,459.41 L804.24,459.94Z M802.90,461.40 A1.50,1.50 0 1 0 799.90,461.40 A1.50,1.50 0 1 0 802.90,461.40Z" fill="#333" fill-rule="evenodd"/><path d="M797.57,465.93 L797.99,465.99 L797.99,467.41 L797.57,467.47 L797.36,467.85 L797.51,468.24 L796.28,468.95 L796.01,468.62 L795.59,468.62 L795.32,468.95 L794.09,468.24 L794.24,467.85 L794.03,467.47 L793.61,467.41 L793.61,465.99 L794.03,465.93 L794.24,465.55 L794.09,465.16 L795.32,464.45 L795.59,464.78 L796.01,464.78 L796.28,464.45 L797.51,465.16 L797.36,465.55Z M796.60,466.70 A0.80,0.80 0 1 0 795.00,466.70 A0.80,0.80 0 1 0 796.60,466.70Z" fill="#333" fill-rule="evenodd"/><path d="M804.44,487.43 L805.10,487.51 L805.10,489.29 L804.44,489.37 L804.24,489.86 L804.64,490.39 L803.39,491.64 L802.86,491.24 L802.37,491.44 L802.29,492.10 L800.51,492.10 L800.43,491.44 L799.94,491.24 L799.41,491.64 L798.16,490.39 L798.56,489.86 L798.36,489.37 L797.70,489.29 L797.70,487.51 L798.36,487.43 L798.56,486.94 L798.16,486.41 L799.41,485.16 L799.94,485.56 L800.43,485.36 L800.51,484.70 L802.29,484.70 L802.37,485.36 L802.86,485.56 L803.39,485.16 L804.64,486.41 L804.24,486.94Z M802.90,488.40 A1.50,1.50 0 1 0 799.90,488.40 A1.50,1.50 0 1 0 802.90,488.40Z" fill="#333" fill-rule="evenodd"/><path d="M797.57,492.93 L797.99,492.99 L797.99,494.41 L797.57,494.47 L797.36,494.85 L797.51,495.24 L796.28,495.95 L796.01,495.62 L795.59,495.62 L795.32,495.95 L794.09,495.24 L794.24,494.85 L794.03,494.47 L793.61,494.41 L793.61,492.99 L794.03,492.93 L794.24,492.55 L794.09,492.16 L795.32,491.45 L795.59,491.78 L796.01,491.78 L796.28,491.45 L797.51,492.16 L797.36,492.55Z M796.60,493.70 A0.80,0.80 0 1 0 795.00,493.70 A0.80,0.80 0 1 0 796.60,493.70Z" fill="#333" fill-rule="evenodd"/><path d="M804.44,514.43 L805.10,514.51 L805.10,516.29 L804.44,516.37 L804.24,516.86 L804.64,517.39 L803.39,518.64 L802.86,518.24 L802.37,518.44 L802.29,519.10 L800.51,519.10 L800.43,518.44 L799.94,518.24 L799.41,518.64 L798.16,517.39 L798.56,516.86 L798.36,516.37 L797.70,516.29 L797.70,514.51 L798.36,514.43 L798.56,513.94 L798.16,513.41 L799.41,512.16 L799.94,512.56 L800.43,512.36 L800.51,511.70 L802.29,511.70 L802.37,512.36 L802.86,512.56 L803.39,512.16 L804.64,513.41 L804.24,513.94Z M802.90,515.40 A1.50,1.50 0 1 0 799.90,515.40 A1.50,1.50 0 1 0 802.90,515.40Z" fill="#333" fill-rule="evenodd"/><path d="M797.57,519.93 L797.99,519.99 L797.99,521.41 L797.57,521.47 L797.36,521.85 L797.51,522.24 L796.28,522.95 L796.01,522.62 L795.59,522.62 L795.32,522.95 L794.09,522.24 L794.24,521.85 L794.03,521.47 L793.61,521.41 L793.61,519.99 L794.03,519.93 L794.24,519.55 L794.09,519.16 L795.32,518.45 L795.59,518.78 L796.01,518.78 L796.28,518.45 L797.51,519.16 L797.36,519.55Z M796.60,520.70 A0.80,0.80 0 1 0 795.00,520.70 A0.80,0.80 0 1 0 796.60,520.70Z" fill="#333" fill-rule="evenodd"/><path d="M804.44,541.43 L805.10,541.51 L805.10,543.29 L804.44,543.37 L804.24,543.86 L804.64,544.39 L803.39,545.64 L802.86,545.24 L802.37,545.44 L802.29,546.10 L800.51,546.10 L800.43,545.44 L799.94,545.24 L799.41,545.64 L798.16,544.39 L798.56,543.86 L798.36,543.37 L797.70,543.29 L797.70,541.51 L798.36,541.43 L798.56,540.94 L798.16,540.41 L799.41,539.16 L799.94,539.56 L800.43,539.36 L800.51,538.70 L802.29,538.70 L802.37,539.36 L802.86,539.56 L803.39,539.16 L804.64,540.41 L804.24,540.94Z M802.90,542.40 A1.50,1.50 0 1 0 799.90,542.40 A1.50,1.50 0 1 0 802.90,542.40Z" fill="#333" fill-rule="evenodd"/><path d="M797.57,546.93 L797.99,546.99 L797.99,548.41 L797.57,548.47 L797.36,548.85 L797.51,549.24 L796.28,549.95 L796.01,549.62 L795.59,549.62 L795.32,549.95 L794.09,549.24 L794.24,548.85 L794.03,548.47 L793.61,548.41 L793.61,546.99 L794.03,546.93 L794.24,546.55 L794.09,546.16 L795.32,545.45 L795.59,545.78 L796.01,545.78 L796.28,545.45 L797.51,546.16 L797.36,546.55Z M796.60,547.70 A0.80,0.80 0 1 0 795.00,547.70 A0.80,0.80 0 1 0 796.60,547.70Z" fill="#333" fill-rule="evenodd"/><path d="M804.44,568.43 L805.10,568.51 L805.10,570.29 L804.44,570.37 L804.24,570.86 L804.64,571.39 L803.39,572.64 L802.86,572.24 L802.37,572.44 L802.29,573.10 L800.51,573.10 L800.43,572.44 L799.94,572.24 L799.41,572.64 L798.16,571.39 L798.56,570.86 L798.36,570.37 L797.70,570.29 L797.70,568.51 L798.36,568.43 L798.56,567.94 L798.16,567.41 L799.41,566.16 L799.94,566.56 L800.43,566.36 L800.51,565.70 L802.29,565.70 L802.37,566.36 L802.86,566.56 L803.39,566.16 L804.64,567.41 L804.24,567.94Z M802.90,569.40 A1.50,1.50 0 1 0 799.90,569.40 A1.50,1.50 0 1 0 802.90,569.40Z" fill="#333" fill-rule="evenodd"/><path d="M797.57,573.93 L797.99,573.99 L797.99,575.41 L797.57,575.47 L797.36,575.85 L797.51,576.24 L796.28,576.95 L796.01,576.62 L795.59,576.62 L795.32,576.95 L794.09,576.24 L794.24,575.85 L794.03,575.47 L793.61,575.41 L793.61,573.99 L794.03,573.93 L794.24,573.55 L794.09,573.16 L795.32,572.45 L795.59,572.78 L796.01,572.78 L796.28,572.45 L797.51,573.16 L797.36,573.55Z M796.60,574.70 A0.80,0.80 0 1 0 795.00,574.70 A0.80,0.80 0 1 0 796.60,574.70Z" fill="#333" fill-rule="evenodd"/><path d="M804.44,595.43 L805.10,595.51 L805.10,597.29 L804.44,597.37 L804.24,597.86 L804.64,598.39 L803.39,599.64 L802.86,599.24 L802.37,599.44 L802.29,600.10 L800.51,600.10 L800.43,599.44 L799.94,599.24 L799.41,599.64 L798.16,598.39 L798.56,597.86 L798.36,597.37 L797.70,597.29 L797.70,595.51 L798.36,595.43 L798.56,594.94 L798.16,594.41 L799.41,593.16 L799.94,593.56 L800.43,593.36 L800.51,592.70 L802.29,592.70 L802.37,593.36 L802.86,593.56 L803.39,593.16 L804.64,594.41 L804.24,594.94Z M802.90,596.40 A1.50,1.50 0 1 0 799.90,596.40 A1.50,1.50 0 1 0 802.90,596.40Z" fill="#333" fill-rule="evenodd"/><path d="M797.57,600.93 L797.99,600.99 L797.99,602.41 L797.57,602.47 L797.36,602.85 L797.51,603.24 L796.28,603.95 L796.01,603.62 L795.59,603.62 L795.32,603.95 L794.09,603.24 L794.24,602.85 L794.03,602.47 L793.61,602.41 L793.61,600.99 L794.03,600.93 L794.24,600.55 L794.09,600.16 L795.32,599.45 L795.59,599.78 L796.01,599.78 L796.28,599.45 L797.51,600.16 L797.36,600.55Z M796.60,601.70 A0.80,0.80 0 1 0 795.00,601.70 A0.80,0.80 0 1 0 796.60,601.70Z" fill="#333" fill-rule="evenodd"/><path d="M804.44,622.43 L805.10,622.51 L805.10,624.29 L804.44,624.37 L804.24,624.86 L804.64,625.39 L803.39,626.64 L802.86,626.24 L802.37,626.44 L802.29,627.10 L800.51,627.10 L800.43,626.44 L799.94,626.24 L799.41,626.64 L798.16,625.39 L798.56,624.86 L798.36,624.37 L797.70,624.29 L797.70,622.51 L798.36,622.43 L798.56,621.94 L798.16,621.41 L799.41,620.16 L799.94,620.56 L800.43,620.36 L800.51,619.70 L802.29,619.70 L802.37,620.36 L802.86,620.56 L803.39,620.16 L804.64,621.41 L804.24,621.94Z M802.90,623.40 A1.50,1.50 0 1 0 799.90,623.40 A1.50,1.50 0 1 0 802.90,623.40Z" fill="#333" fill-rule="evenodd"/><path d="M797.57,627.93 L797.99,627.99 L797.99,629.41 L797.57,629.47 L797.36,629.85 L797.51,630.24 L796.28,630.95 L796.01,630.62 L795.59,630.62 L795.32,630.95 L794.09,630.24 L794.24,629.85 L794.03,629.47 L793.61,629.41 L793.61,627.99 L794.03,627.93 L794.24,627.55 L794.09,627.16 L795.32,626.45 L795.59,626.78 L796.01,626.78 L796.28,626.45 L797.51,627.16 L797.36,627.55Z M796.60,628.70 A0.80,0.80 0 1 0 795.00,628.70 A0.80,0.80 0 1 0 796.60,628.70Z" fill="#333" fill-rule="evenodd"/></svg><div class="t" style="left:28.31px;top:7.00px;font-size:17.2px;color:#ffffff;font-style:italic;transform:scaleX(0.8889);-webkit-text-stroke:0.35px #fff">Sensor</div><div class="t" style="left:81.67px;top:7.00px;font-size:17.2px;color:#ffffff;transform:scaleX(0.9292);-webkit-text-stroke:0.35px #fff">SNMP</div><div class="t" style="left:131.90px;top:7.00px;font-size:17.2px;color:#ffffff;transform:scaleX(0.9048);-webkit-text-stroke:0.35px #fff">Cisco</div><div class="t" style="left:176.40px;top:7.00px;font-size:17.2px;color:#ffffff;transform:scaleX(0.8750);-webkit-text-stroke:0.35px #fff">ADSL</div><div class="t" style="left:49.80px;top:30.00px;font-size:11px;color:#ffffff;transform:scaleX(0.8875);-webkit-text-stroke:0.3px #fff">OK</div><div class="t" style="left:71.72px;top:78.00px;font-size:13px;color:#454545;transform:scaleX(0.9792);-webkit-text-stroke:0.08px #454545">Overview</div><div class="t" style="left:193.74px;top:78.00px;font-size:13px;color:#454545;transform:scaleX(0.9574);-webkit-text-stroke:0.08px #454545">Live Data</div><div class="t" style="left:301.80px;top:78.00px;font-size:13px;color:#454545;font-weight:700;transform:scaleX(0.8143);-webkit-text-stroke:0.08px #454545">2</div><div class="t" style="left:318.10px;top:78.00px;font-size:13px;color:#454545;transform:scaleX(0.9444);-webkit-text-stroke:0.08px #454545">days</div><div class="t" style="left:394.14px;top:78.00px;font-size:13px;color:#454545;font-weight:700;transform:scaleX(1.0615);-webkit-text-stroke:0.08px #454545">30</div><div class="t" style="left:414.80px;top:78.00px;font-size:13px;color:#454545;transform:scaleX(0.9556);-webkit-text-stroke:0.08px #454545">days</div><div class="t" style="left:489.67px;top:78.00px;font-size:13px;color:#454545;font-weight:700;transform:scaleX(1.0286);-webkit-text-stroke:0.08px #454545">365</div><div class="t" style="left:516.90px;top:78.00px;font-size:13px;color:#454545;transform:scaleX(0.9444);-webkit-text-stroke:0.08px #454545">days</div><div class="t" style="left:613.60px;top:78.00px;font-size:13px;color:#454545;transform:scaleX(0.9959);-webkit-text-stroke:0.08px #454545">Historic Data</div><div class="t" style="left:757.18px;top:78.00px;font-size:13px;color:#454545;transform:scaleX(1.0200);-webkit-text-stroke:0.08px #454545">Log</div><div class="t" style="left:845.72px;top:78.00px;font-size:13px;color:#454545;transform:scaleX(0.9848);-webkit-text-stroke:0.08px #454545">Settings</div><div class="t" style="left:38.89px;top:130.00px;font-size:12.8px;color:#404040;transform:scaleX(0.9143);-webkit-text-stroke:0.12px #404040">Speed Downlink</div><div class="t" style="left:167.00px;top:293.00px;font-size:11px;color:#383838;transform:scaleX(0.9333)">0</div><div class="t" style="left:237.00px;top:293.00px;font-size:11px;color:#383838;transform:scaleX(0.9875)">8,128 kbit/s</div><div class="t" style="left:38.82px;top:298.00px;font-size:12.8px;color:#404040;transform:scaleX(0.9766);-webkit-text-stroke:0.12px #404040">8,128 kbit/s</div><div class="t" style="left:315.33px;top:130.00px;font-size:10px;color:#353535;transform:scaleX(0.9667);-webkit-text-stroke:0.2px #353535">Local Attenuation</div><div class="t" style="left:315.15px;top:169.00px;font-size:10.2px;color:#404040;transform:scaleX(0.9500);-webkit-text-stroke:0.12px #404040">14 db</div><div class="t" style="left:453.86px;top:130.00px;font-size:10px;color:#353535;transform:scaleX(0.9402);-webkit-text-stroke:0.2px #353535">Local Power Output</div><div class="t" style="left:454.60px;top:169.00px;font-size:10.2px;color:#404040;transform:scaleX(0.9500);-webkit-text-stroke:0.12px #404040">20 db</div><div class="t" style="left:592.37px;top:130.00px;font-size:10px;color:#353535;transform:scaleX(0.9304);-webkit-text-stroke:0.2px #353535">Local SNR</div><div class="t" style="left:593.10px;top:169.00px;font-size:10.2px;color:#404040;transform:scaleX(0.9500);-webkit-text-stroke:0.12px #404040">8.20 db</div><div class="t" style="left:730.84px;top:130.00px;font-size:10px;color:#353535;transform:scaleX(0.9640);-webkit-text-stroke:0.2px #353535">Remote Attenuation</div><div class="t" style="left:730.65px;top:169.00px;font-size:10.2px;color:#404040;transform:scaleX(0.9500);-webkit-text-stroke:0.12px #404040">11 db</div><div class="t" style="left:315.36px;top:196.00px;font-size:10px;color:#353535;transform:scaleX(0.9367);-webkit-text-stroke:0.2px #353535">Remote Power Output</div><div class="t" style="left:315.15px;top:235.00px;font-size:10.2px;color:#404040;transform:scaleX(0.9500);-webkit-text-stroke:0.12px #404040">13 db</div><div class="t" style="left:453.88px;top:196.00px;font-size:10px;color:#353535;transform:scaleX(0.9158);-webkit-text-stroke:0.2px #353535">Remote SNR</div><div class="t" style="left:453.65px;top:235.00px;font-size:10.2px;color:#404040;transform:scaleX(0.9500);-webkit-text-stroke:0.12px #404040">7 db</div><div class="t" style="left:592.36px;top:196.00px;font-size:10px;color:#353535;transform:scaleX(0.9379);-webkit-text-stroke:0.2px #353535">Speed Uplink</div><div class="t" style="left:593.10px;top:235.00px;font-size:10.2px;color:#404040;transform:scaleX(0.9500);-webkit-text-stroke:0.12px #404040">832 kbit/s</div><div class="t" style="left:57.48px;top:378.00px;font-size:12.6px;color:#1c1c28;transform:scaleX(0.9178)">Channel</div><div class="t" style="left:212.31px;top:378.00px;font-size:12.6px;color:#1c1c28;transform:scaleX(0.8909)">ID</div><div class="t" style="left:300.76px;top:378.00px;font-size:12.6px;color:#1c1c28;transform:scaleX(0.9386)">Last Value</div><div class="t" style="left:494.50px;top:378.00px;font-size:12.6px;color:#1c1c28;transform:scaleX(0.9959)">Minimum</div><div class="t" style="left:647.04px;top:378.00px;font-size:12.6px;color:#1c1c28;transform:scaleX(0.9642)">Maximum</div><div class="t" style="left:57.55px;top:405.00px;font-size:12.6px;color:#505050;transform:scaleX(0.9473)">Downtime</div><div class="t" style="left:211.79px;top:405.00px;font-size:12.6px;color:#505050;transform:scaleX(1.0100)">-4</div><div class="t" style="left:57.55px;top:432.00px;font-size:12.6px;color:#505050;transform:scaleX(0.9537)">Local Attenuation</div><div class="t" style="left:212.14px;top:432.00px;font-size:12.6px;color:#505050;transform:scaleX(0.9600)">5</div><div class="t" style="left:320.26px;top:432.00px;font-size:12.6px;color:#505050;transform:scaleX(0.9400)">14 db</div><div class="t" style="left:529.86px;top:432.00px;font-size:12.6px;color:#505050;transform:scaleX(0.9400)">14 db</div><div class="t" style="left:684.56px;top:432.00px;font-size:12.6px;color:#505050;transform:scaleX(0.9400)">14 db</div><div class="t" style="left:57.58px;top:459.00px;font-size:12.6px;color:#505050;transform:scaleX(0.9200)">Local Power Output</div><div class="t" style="left:212.14px;top:459.00px;font-size:12.6px;color:#505050;transform:scaleX(0.9600)">6</div><div class="t" style="left:320.26px;top:459.00px;font-size:12.6px;color:#505050;transform:scaleX(0.9400)">20 db</div><div class="t" style="left:529.86px;top:459.00px;font-size:12.6px;color:#505050;transform:scaleX(0.9400)">20 db</div><div class="t" style="left:684.56px;top:459.00px;font-size:12.6px;color:#505050;transform:scaleX(0.9400)">20 db</div><div class="t" style="left:57.59px;top:486.00px;font-size:12.6px;color:#505050;transform:scaleX(0.9086)">Local SNR</div><div class="t" style="left:212.14px;top:486.00px;font-size:12.6px;color:#505050;transform:scaleX(0.9600)">7</div><div class="t" style="left:315.32px;top:486.00px;font-size:12.6px;color:#505050;transform:scaleX(0.9293)">8.20 db</div><div class="t" style="left:519.97px;top:486.00px;font-size:12.6px;color:#505050;transform:scaleX(0.9293)">8.20 db</div><div class="t" style="left:674.67px;top:486.00px;font-size:12.6px;color:#505050;transform:scaleX(0.9293)">8.20 db</div><div class="t" style="left:57.56px;top:513.00px;font-size:12.6px;color:#505050;transform:scaleX(0.9413)">Remote Attenuation</div><div class="t" style="left:212.14px;top:513.00px;font-size:12.6px;color:#505050;transform:scaleX(0.9600)">2</div><div class="t" style="left:320.23px;top:513.00px;font-size:12.6px;color:#505050;transform:scaleX(0.9724)">11 db</div><div class="t" style="left:529.83px;top:513.00px;font-size:12.6px;color:#505050;transform:scaleX(0.9724)">11 db</div><div class="t" style="left:684.53px;top:513.00px;font-size:12.6px;color:#505050;transform:scaleX(0.9724)">11 db</div><div class="t" style="left:57.59px;top:540.00px;font-size:12.6px;color:#505050;transform:scaleX(0.9145)">Remote Power Output</div><div class="t" style="left:212.14px;top:540.00px;font-size:12.6px;color:#505050;transform:scaleX(0.9600)">3</div><div class="t" style="left:320.26px;top:540.00px;font-size:12.6px;color:#505050;transform:scaleX(0.9400)">13 db</div><div class="t" style="left:529.86px;top:540.00px;font-size:12.6px;color:#505050;transform:scaleX(0.9400)">13 db</div><div class="t" style="left:684.56px;top:540.00px;font-size:12.6px;color:#505050;transform:scaleX(0.9400)">13 db</div><div class="t" style="left:57.60px;top:567.00px;font-size:12.6px;color:#505050;transform:scaleX(0.9028)">Remote SNR</div><div class="t" style="left:213.10px;top:567.00px;font-size:12.6px;color:#505050;transform:scaleX(0.9600)">4</div><div class="t" style="left:323.40px;top:567.00px;font-size:12.6px;color:#505050;transform:scaleX(0.9522)">7 db</div><div class="t" style="left:536.15px;top:567.00px;font-size:12.6px;color:#505050;transform:scaleX(0.9522)">7 db</div><div class="t" style="left:690.85px;top:567.00px;font-size:12.6px;color:#505050;transform:scaleX(0.9522)">7 db</div><div class="t" style="left:57.59px;top:594.00px;font-size:12.6px;color:#505050;transform:scaleX(0.9122)">Speed Downlink</div><div class="t" style="left:213.10px;top:594.00px;font-size:12.6px;color:#505050;transform:scaleX(0.9600)">0</div><div class="t" style="left:303.52px;top:594.00px;font-size:12.6px;color:#505050;transform:scaleX(0.9778)">8,128 kbit/s</div><div class="t" style="left:496.42px;top:594.00px;font-size:12.6px;color:#505050;transform:scaleX(0.9778)">8,128 kbit/s</div><div class="t" style="left:651.12px;top:594.00px;font-size:12.6px;color:#505050;transform:scaleX(0.9778)">8,128 kbit/s</div><div class="t" style="left:57.60px;top:621.00px;font-size:12.6px;color:#505050;transform:scaleX(0.9014)">Speed Uplink</div><div class="t" style="left:212.14px;top:621.00px;font-size:12.6px;color:#505050;transform:scaleX(0.9600)">1</div><div class="t" style="left:308.35px;top:621.00px;font-size:12.6px;color:#505050">832 kbit/s</div><div class="t" style="left:506.10px;top:621.00px;font-size:12.6px;color:#505050">832 kbit/s</div><div class="t" style="left:660.80px;top:621.00px;font-size:12.6px;color:#505050">832 kbit/s</div><div id="frame"></div>
</body></html>
